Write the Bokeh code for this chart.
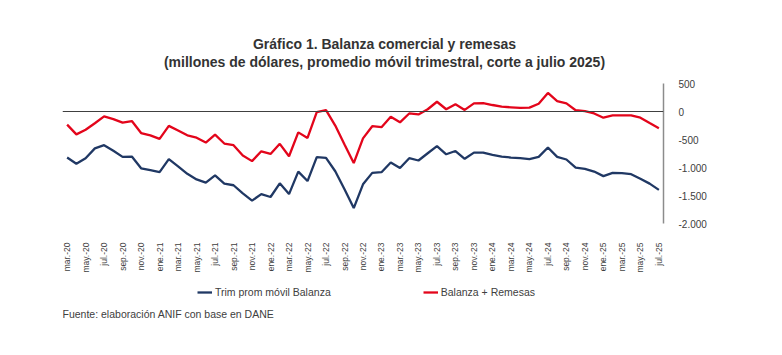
import math
from bokeh.plotting import figure
from bokeh.layouts import column
from bokeh.models import Span, Label, Legend, LegendItem, FixedTicker
from bokeh.embed import file_html
from bokeh.resources import INLINE

# ---- data (millones de dólares) ----
tick_labels = ["mar.-20", "may.-20", "jul.-20", "sep.-20", "nov.-20", "ene.-21", "mar.-21", "may.-21",
               "jul.-21", "sep.-21", "nov.-21", "ene.-22", "mar.-22", "may.-22", "jul.-22", "sep.-22",
               "nov.-22", "ene.-23", "mar.-23", "may.-23", "jul.-23", "sep.-23", "nov.-23", "ene.-24",
               "mar.-24", "may.-24", "jul.-24", "sep.-24", "nov.-24", "ene.-25", "mar.-25", "may.-25",
               "jul.-25"]

balanza = [-822, -933, -834, -659, -601, -700, -810, -805, -1014, -1049, -1084, -851, -979, -1113,
           -1213, -1271, -1140, -1288, -1317, -1463, -1591, -1475, -1527, -1282, -1475, -1073, -1242,
           -816, -828, -1067, -1387, -1725, -1300, -1096, -1084, -910, -1009, -834, -875, -746, -618,
           -764, -706, -845, -735, -735, -776, -805, -822, -834, -851, -810, -642, -810, -857, -1003,
           -1026, -1073, -1154, -1096, -1102, -1119, -1201, -1288, -1399]

remesas = [-234, -408, -327, -210, -88, -135, -199, -170, -385, -426, -490, -257, -339, -426, -467,
           -554, -414, -572, -601, -787, -886, -711, -758, -577, -799, -373, -472, -12, 23, -251, -589,
           -921, -480, -263, -280, -94, -193, -35, -53, 40, 174, 40, 128, 28, 145, 151, 116, 87, 75, 63,
           69, 139, 332, 186, 145, 23, 5, -35, -111, -70, -70, -70, -111, -205, -298]

y_ticks = [500, 0, -500, -1000, -1500, -2000]
y_tick_labels = ["500", "0", "-500", "-1.000", "-1.500", "-2.000"]

x = list(range(len(balanza)))

BLUE = "#203864"
RED = "#E3051B"
TXT = "#404040"
TITLE_C = "#333333"
FONT = "Liberation Sans"
W = 782
TOP_H, MAIN_H, BOT_H = 75, 200, 80
FRAME_L, FRAME_R = 62, 663


def blank(h):
    f = figure(width=W, height=h, output_backend="svg", toolbar_location=None,
               x_range=(0, 1), y_range=(0, 1), x_axis_location=None, y_axis_location=None,
               min_border_left=FRAME_L, min_border_right=W - FRAME_R,
               min_border_top=0, min_border_bottom=0)
    f.outline_line_color = None
    f.border_fill_color = "white"
    f.background_fill_color = "white"
    f.grid.visible = False
    return f


# ---- title block ----
top = blank(TOP_H)
for txt, yy in [("Gráfico 1. Balanza comercial y remesas", 43),
                ("(millones de dólares, promedio móvil trimestral, corte a julio 2025)", 61)]:
    top.add_layout(Label(x=384 - FRAME_L, y=TOP_H - yy, x_units="screen", y_units="screen", text=txt,
                         text_align="center", text_baseline="middle", text_font=FONT,
                         text_font_size="14px", text_font_style="bold", text_color=TITLE_C))

# ---- main chart ----
FRAME_T, FRAME_B = 83 - TOP_H, 226 - TOP_H
p = figure(width=W, height=MAIN_H, output_backend="svg", toolbar_location=None,
           x_range=(-0.5, len(x) - 0.5), y_range=(-2000, 500), y_axis_location="right",
           min_border_left=FRAME_L, min_border_right=W - FRAME_R,
           min_border_top=FRAME_T, min_border_bottom=MAIN_H - FRAME_B)
p.outline_line_color = None
p.background_fill_color = "white"
p.border_fill_color = "white"
p.xgrid.visible = False
p.ygrid.visible = False

p.xaxis.ticker = FixedTicker(ticks=list(range(0, len(x), 2)))
p.xaxis.major_label_overrides = {i * 2: lab for i, lab in enumerate(tick_labels)}
p.xaxis.major_label_orientation = math.pi / 2
p.xaxis.axis_line_color = None
p.xaxis.major_tick_line_color = None
p.xaxis.minor_tick_line_color = None
p.xaxis.major_label_text_font_size = "8.5px"
p.xaxis.major_label_text_font = FONT
p.xaxis.major_label_text_color = TXT
p.xaxis.major_label_standoff = 13

p.yaxis.ticker = FixedTicker(ticks=y_ticks)
p.yaxis.major_label_overrides = {v: s for v, s in zip(y_ticks, y_tick_labels)}
p.yaxis.axis_line_color = "#8c8c8c"
p.yaxis.axis_line_width = 1.5
p.yaxis.major_tick_line_color = None
p.yaxis.minor_tick_line_color = None
p.yaxis.major_label_text_font_size = "10px"
p.yaxis.major_label_text_font = FONT
p.yaxis.major_label_text_color = TXT
p.yaxis.major_label_standoff = 9

p.add_layout(Span(location=0, dimension="width", line_color="#404040", line_width=1.2))

p.line(x, balanza, line_color=BLUE, line_width=2.3)
p.line(x, remesas, line_color=RED, line_width=2.3)

# ---- legend + source block (series drawn outside this strip's range; only legend shows) ----
bot = blank(BOT_H)
g1 = bot.line(x, balanza, line_color=BLUE, line_width=2.3)
g2 = bot.line(x, remesas, line_color=RED, line_width=2.3)
legend = Legend(items=[LegendItem(label="Trim prom móvil Balanza", renderers=[g1]),
                       LegendItem(label="Balanza + Remesas", renderers=[g2])],
                orientation="horizontal", location=(197 - FRAME_L, BOT_H - (299 - (355 - BOT_H))),
                border_line_color=None, background_fill_alpha=0, padding=0, margin=0,
                spacing=92, glyph_width=15, glyph_height=14, label_height=14,
                label_standoff=3, label_text_font_size="10.5px", label_text_font=FONT,
                label_text_color=TXT)
bot.add_layout(legend, "center")
bot.add_layout(Label(x=0, y=355 - 313, x_units="screen", y_units="screen",
                     text="Fuente: elaboración ANIF con base en DANE", text_align="left",
                     text_baseline="middle", text_font=FONT, text_font_size="10.5px",
                     text_color=TXT))

layout = column(top, p, bot, spacing=0)
open("out.html", "w").write(file_html(layout, INLINE))
